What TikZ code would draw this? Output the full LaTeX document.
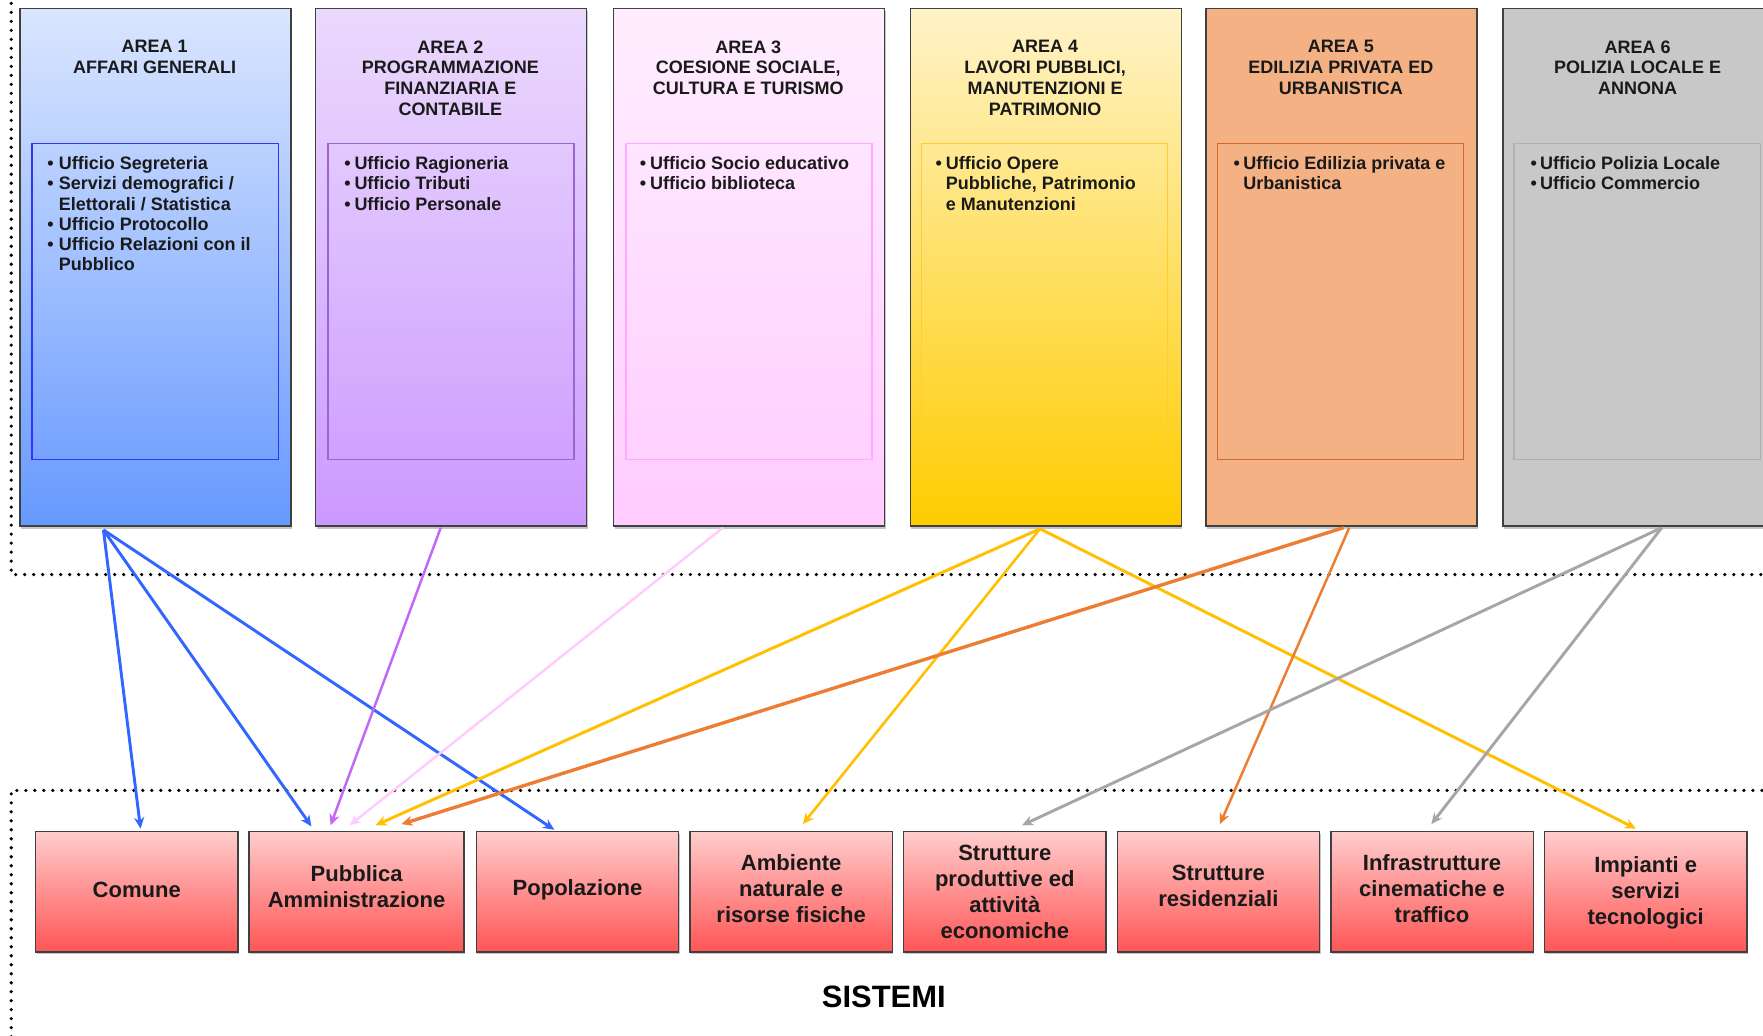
\documentclass[tikz,border=0pt]{standalone}
\usepackage{fontspec}
\setmainfont{Liberation Sans}
\usetikzlibrary{arrows.meta,shadows,calc}
\definecolor{bord}{HTML}{404040}
\definecolor{txt}{HTML}{1A1A1A}
\definecolor{aAt}{HTML}{DAE6FF}\definecolor{aAb}{HTML}{6699FF}\definecolor{aAi}{HTML}{3333FF}
\definecolor{aBt}{HTML}{EBD9FD}\definecolor{aBb}{HTML}{CC99FF}\definecolor{aBi}{HTML}{9966CC}
\definecolor{aCt}{HTML}{FFEEFF}\definecolor{aCb}{HTML}{FFCCFF}\definecolor{aCi}{HTML}{FFAAFF}
\definecolor{aDt}{HTML}{FFF3C8}\definecolor{aDb}{HTML}{FFCC00}\definecolor{aDi}{HTML}{FFCC33}
\definecolor{aEf}{HTML}{F4B183}\definecolor{aEi}{HTML}{D0692A}
\definecolor{aFf}{HTML}{C8C8C8}\definecolor{aFi}{HTML}{B0B0B0}
\definecolor{redt}{HTML}{FFCCCC}\definecolor{redb}{HTML}{FF5555}
\definecolor{cblue}{HTML}{3366FF}\definecolor{cpurp}{HTML}{C466F7}
\definecolor{cpink}{HTML}{FFCCFF}\definecolor{cgold}{HTML}{FFC000}
\definecolor{corng}{HTML}{ED7D31}\definecolor{cgray}{HTML}{A6A6A6}
\begin{document}
\begin{tikzpicture}[x=1pt,y=-1pt,
  areabox/.style={draw=bord, line width=1.3pt, minimum width=241pt, minimum height=460pt,
    anchor=north west, inner sep=0pt,
    drop shadow={shadow xshift=1pt, shadow yshift=-2.5pt, fill=black!45}},
  innerbox/.style={line width=1.2pt, minimum width=219pt, minimum height=281pt,
    anchor=north west, inner sep=0pt},
  titletext/.style={anchor=north, inner sep=0pt, align=center, text=txt,
    font=\bfseries\fontsize{16}{18.5}\selectfont},
  bullets/.style={anchor=north west, inner sep=0pt, text=txt,
    font=\bfseries\fontsize{16}{18}\selectfont},
  sysbox/.style={draw=bord, line width=1.3pt, minimum width=180pt, minimum height=107pt,
    anchor=north west, inner sep=0pt, align=center, text=txt,
    top color=redt, bottom color=redb,
    font=\bfseries\fontsize{19.6}{23}\selectfont,
    drop shadow={shadow xshift=1pt, shadow yshift=-2pt, fill=black!45}},
  conn/.style={-{Stealth[length=10pt,width=9pt]}, line width=2.6pt},
  frame/.style={line width=3.2pt, dash pattern=on 0pt off 8pt, line cap=round}
]
\useasboundingbox (0,0) rectangle (1568,921.4);

% dotted frames
\coordinate (f1) at (10,-5);
\coordinate (f2) at (10,511);
\coordinate (f3) at (1575,511);
\coordinate (f4) at (10,703);
\coordinate (f5) at (1575,703);
\coordinate (f6) at (10,930);
\draw[frame] (f1) -- (f2) -- (f3);
\draw[frame] (f5) -- (f4) -- (f6);

% area boxes
\node[areabox, top color=aAt, bottom color=aAb] (a1) at (17,7) {};
\node[areabox, top color=aBt, bottom color=aBb] (a2) at (280,7) {};
\node[areabox, top color=aCt, bottom color=aCb] (a3) at (545,7) {};
\node[areabox, top color=aDt, bottom color=aDb] (a4) at (809,7) {};
\node[areabox, fill=aEf] (a5) at (1072,7) {};
\node[areabox, fill=aFf, minimum width=250pt] (a6) at (1336,7) {};

% inner boxes
\node[innerbox, draw=aAi] (i1) at (28,127) {};
\node[innerbox, draw=aBi] (i2) at (291,127) {};
\node[innerbox, draw=aCi] (i3) at (556,127) {};
\node[innerbox, draw=aDi] (i4) at (819,127) {};
\node[innerbox, draw=aEi] (i5) at (1082,127) {};
\node[innerbox, draw=aFi] (i6) at (1346,127) {};

% titles
\node[titletext] (t1) at (137.5,35.8) {AREA 1\\AFFARI GENERALI};
\node[titletext] (t2) at (400.5,35.8) {AREA 2\\PROGRAMMAZIONE\\FINANZIARIA E\\CONTABILE};
\node[titletext] (t3) at (665.5,35.8) {AREA 3\\COESIONE SOCIALE,\\CULTURA E TURISMO};
\node[titletext] (t4) at (929.5,35.8) {AREA 4\\LAVORI PUBBLICI,\\MANUTENZIONI E\\PATRIMONIO};
\node[titletext] (t5) at (1192.5,35.8) {AREA 5\\EDILIZIA PRIVATA ED\\URBANISTICA};
\node[titletext] (t6) at (1456.5,35.8) {AREA 6\\POLIZIA LOCALE E\\ANNONA};

% bullet lists
\node[bullets] (b1) at (42,138) {\begin{tabular}{@{}l@{\hspace{4.5pt}}l@{}}
 • & Ufficio Segreteria\\ • & Servizi demografici /\\ & Elettorali / Statistica\\
 • & Ufficio Protocollo\\ • & Ufficio Relazioni con il\\ & Pubblico\end{tabular}};
\node[bullets] (b2) at (306,138) {\begin{tabular}{@{}l@{\hspace{3.5pt}}l@{}}
 • & Ufficio Ragioneria\\ • & Ufficio Tributi\\ • & Ufficio Personale\end{tabular}};
\node[bullets] (b3) at (569,138) {\begin{tabular}{@{}l@{\hspace{3.5pt}}l@{}}
 • & Ufficio Socio educativo\\ • & Ufficio biblioteca\end{tabular}};
\node[bullets] (b4) at (832,138) {\begin{tabular}{@{}l@{\hspace{3.5pt}}l@{}}
 • & Ufficio Opere\\ & Pubbliche, Patrimonio\\ & e Manutenzioni\end{tabular}};
\node[bullets] (b5) at (1097,138) {\begin{tabular}{@{}l@{\hspace{3pt}}l@{}}
 • & Ufficio Edilizia privata e\\ & Urbanistica\end{tabular}};
\node[bullets] (b6) at (1361,138) {\begin{tabular}{@{}l@{\hspace{3pt}}l@{}}
 • & Ufficio Polizia Locale\\ • & Ufficio Commercio\end{tabular}};

% system boxes
\node[sysbox, text depth=3pt] (comune) at (31,739) {Comune};
\node[sysbox, minimum width=191pt, text depth=10pt] (pa) at (221,739) {Pubblica\\Amministrazione};
\node[sysbox, text depth=7pt] (pop) at (423,739) {Popolazione};
\node[sysbox, text depth=6pt] (amb) at (613,739) {Ambiente\\naturale e\\risorse fisiche};
\node[sysbox] (prod) at (803,739) {Strutture\\produttive ed\\attività\\economiche};
\node[sysbox, text depth=10pt] (res) at (993,739) {Strutture\\residenziali};
\node[sysbox, text depth=6pt] (inf) at (1183,739) {Infrastrutture\\cinematiche e\\traffico};
\node[sysbox, text depth=2pt] (imp) at (1373,739) {Impianti e\\servizi\\tecnologici};

\node[text=black, font=\bfseries\fontsize{27.5}{30}\selectfont, inner sep=0pt] (sis) at (786,887) {SISTEMI};

% sources
\coordinate (s1) at ($(a1.south west)+(75,3)$);
\coordinate (s2) at ($(a2.south west)+(112,1)$);
\coordinate (s3) at ($(a3.south west)+(98,1)$);
\coordinate (s4) at ($(a4.south west)+(116,2)$);
\coordinate (s5a) at ($(a5.south west)+(123,1)$);
\coordinate (s5b) at ($(a5.south west)+(128,1)$);
\coordinate (s6) at ($(a6.south west)+(142,1)$);
% targets
\coordinate (tcom) at ($(comune.north west)+(94,-2)$);
\coordinate (tpa1) at ($(pa.north west)+(56,-4)$);
\coordinate (tpa2) at ($(pa.north west)+(73,-5)$);
\coordinate (tpa3) at ($(pa.north west)+(90,-5)$);
\coordinate (tpa4) at ($(pa.north west)+(113,-5)$);
\coordinate (tpa5) at ($(pa.north west)+(136,-6)$);
\coordinate (tpop) at ($(pop.north west)+(70,-1)$);
\coordinate (tamb) at ($(amb.north west)+(101,-6)$);
\coordinate (tprod) at ($(prod.north west)+(106,-5)$);
\coordinate (tres) at ($(res.north west)+(92,-6)$);
\coordinate (tinf) at ($(inf.north west)+(90,-6)$);
\coordinate (timp) at ($(imp.north west)+(82,-2)$);

% connectors
\draw[conn, cblue] (s1) -- (tcom);
\draw[conn, cblue] (s1) -- (tpa1);
\draw[conn, cblue] (s1) -- (tpop);
\draw[conn, cpurp, line width=2.2pt] (s2) -- (tpa2);
\draw[conn, cpink, line width=2.2pt] (s3) -- (tpa3);
\draw[conn, cgold] (s4) -- (tpa4);
\draw[conn, cgold, line width=2.3pt] (s4) -- (tamb);
\draw[conn, cgold] (s4) -- (timp);
\draw[conn, corng, line width=3pt] (s5a) -- (tpa5);
\draw[conn, corng, line width=2.2pt] (s5b) -- (tres);
\draw[conn, cgray] (s6) -- (tprod);
\draw[conn, cgray] (s6) -- (tinf);
\end{tikzpicture}
\end{document}
